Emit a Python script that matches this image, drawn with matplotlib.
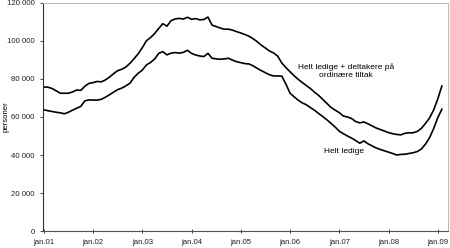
import numpy as np
import matplotlib.pyplot as plt

plt.rcParams['font.family'] = ['Liberation Sans', 'DejaVu Sans']

# månedlige verdier, jan.01 - feb.09 (tusen personer)
ledige_tiltak = [
    75.8, 75.7, 75.0, 73.8, 72.5, 72.5, 72.5, 73.2, 74.2, 74.0, 76.2, 77.7,
    78.1, 78.7, 78.5, 79.5, 81.0, 82.8, 84.4, 85.1, 86.3, 88.3, 90.7, 93.3,
    96.5, 100.1, 101.8, 103.9, 106.6, 109.1, 107.8, 110.7, 111.6, 111.9, 111.5, 112.5,
    111.4, 111.8, 111.1, 111.3, 112.6, 108.3, 107.6, 106.8, 106.2, 106.2, 105.7, 104.9,
    104.2, 103.4, 102.5, 101.2, 99.6, 97.8, 96.3, 94.7, 93.7, 92.0, 88.4, 86.0,
    83.8, 81.7, 79.8, 78.1, 76.5, 74.9, 73.0, 71.3, 69.2, 67.1, 65.0, 63.6,
    62.3, 60.5, 60.0, 59.2, 57.6, 56.9, 57.4, 56.4, 55.3, 54.2, 53.4, 52.6,
    51.8, 51.2, 50.8, 50.6, 51.4, 51.7, 51.7, 52.4, 54.0, 56.6, 59.5, 63.7,
    69.5, 76.3,
]
helt_ledige = [
    63.8, 63.3, 62.9, 62.5, 62.2, 61.7, 62.5, 63.6, 64.6, 65.6, 68.5, 69.0,
    68.9, 68.9, 69.3, 70.4, 71.7, 73.1, 74.4, 75.2, 76.4, 77.8, 80.9, 83.0,
    84.7, 87.4, 88.7, 90.5, 93.5, 94.4, 92.7, 93.6, 93.9, 93.6, 94.0, 95.1,
    93.5, 92.6, 92.1, 91.8, 93.5, 90.9, 90.6, 90.4, 90.6, 90.9, 89.9, 89.1,
    88.6, 88.1, 87.9, 86.9, 85.6, 84.4, 83.3, 82.2, 81.6, 81.6, 81.5, 77.3,
    72.5, 70.6, 68.8, 67.4, 66.4, 64.9, 63.5, 61.8, 60.2, 58.5, 56.6, 54.7,
    52.5, 51.2, 50.0, 48.9, 47.6, 46.2, 47.4, 45.9, 44.8, 43.7, 42.9, 42.2,
    41.5, 40.8, 40.0, 40.3, 40.4, 40.8, 41.2, 41.8, 43.2, 45.7, 49.1, 53.9,
    59.6, 64.1,
]
x_labels = ['jan.01', 'jan.02', 'jan.03', 'jan.04', 'jan.05',
            'jan.06', 'jan.07', 'jan.08', 'jan.09']
y_ticks = [0, 20000, 40000, 60000, 80000, 100000, 120000]

months = np.arange(len(helt_ledige))
upper = np.array(ledige_tiltak) * 1000
lower = np.array(helt_ledige) * 1000

fig = plt.figure(figsize=(4.5, 2.48), dpi=100)
ax = fig.add_axes([0.0956, 0.0685, 0.9, 0.9195])

ax.plot(months, upper, color='black', lw=1.2)
ax.plot(months, lower, color='black', lw=1.2)

ax.set_xlim(-0.2, 98.5)
ax.set_ylim(0, 120000)
ax.set_xticks(np.arange(0, 97, 12))
ax.set_xticklabels(x_labels)
ax.set_yticks(y_ticks)
ax.set_yticklabels([f'{v:,}'.replace(',', ' ') for v in y_ticks])
ax.tick_params(axis='both', labelsize=5.6, length=2.5, width=0.6, colors='#222222')
ax.tick_params(axis='x', direction='inout', length=3, pad=4)
ax.set_ylabel('personer', fontsize=5.6)
ax.yaxis.set_label_coords(-0.083, 0.5)

ax.spines['left'].set_color('#333333')
ax.spines['bottom'].set_color('#555555')
ax.spines['top'].set_color('#bbbbbb')
ax.spines['right'].set_color('#bbbbbb')
for s in ax.spines.values():
    s.set_linewidth(0.8)

ax.text(73.7, 84200, 'Helt ledige + deltakere på\nordinære tiltak', fontsize=6,
        ha='center', va='center', linespacing=1.2)
ax.text(73.2, 42100, 'Helt ledige', fontsize=6, ha='center', va='center')

fig.savefig('out.png', dpi=100)
